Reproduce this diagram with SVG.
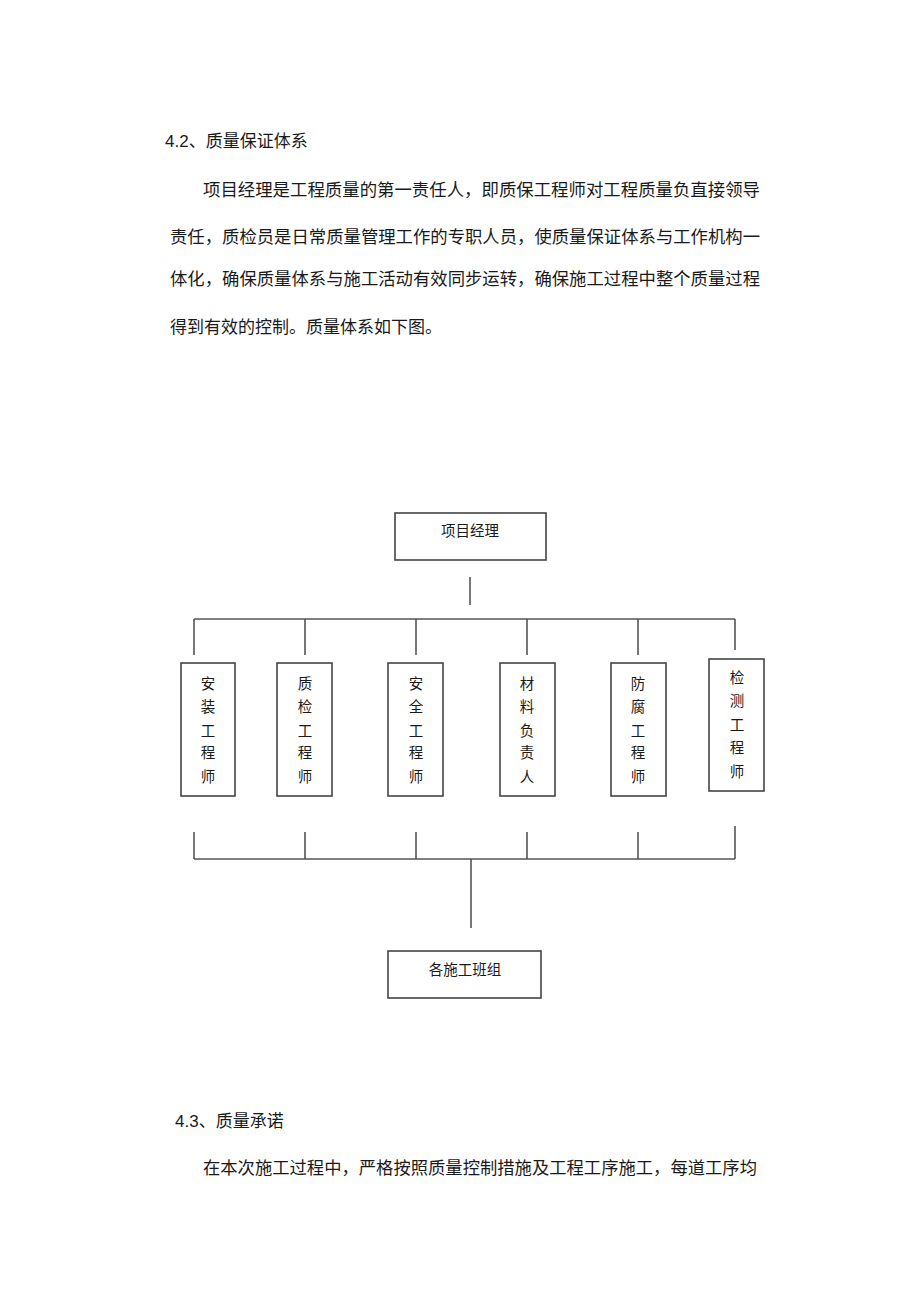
<svg xmlns="http://www.w3.org/2000/svg" width="920" height="1303" viewBox="0 0 920 1303">
<style>
.t{font-family:"Liberation Sans","Noto Sans CJK SC",sans-serif;fill:#1a1a1a}
.h{font-size:17px}
.p{font-size:17.5px}
.n{font-size:14.5px;text-anchor:middle}
.box{fill:#fff;stroke:#444;stroke-width:1.6}
.ln{stroke:#555;stroke-width:1.6;fill:none}
</style>
<rect width="920" height="1303" fill="#fff"/>
<text class="t h" x="165" y="147">4.2、质量保证体系</text>
<text class="t p" x="203" y="196" textLength="557" lengthAdjust="spacingAndGlyphs">项目经理是工程质量的第一责任人，即质保工程师对工程质量负直接领导</text>
<text class="t p" x="170" y="243" textLength="590" lengthAdjust="spacingAndGlyphs">责任，质检员是日常质量管理工作的专职人员，使质量保证体系与工作机构一</text>
<text class="t p" x="170" y="285" textLength="590" lengthAdjust="spacingAndGlyphs">体化，确保质量体系与施工活动有效同步运转，确保施工过程中整个质量过程</text>
<text class="t p" x="170" y="333" textLength="272" lengthAdjust="spacingAndGlyphs">得到有效的控制。质量体系如下图。</text>

<g id="connectors">
<path class="ln" d="M470 577V605"/>
<path class="ln" d="M194 619H735"/>
<path class="ln" d="M194 619V655M305 619V655M416 619V655M527 619V655M638 619V655M735 619V650"/>
<path class="ln" d="M194 832V859M305 832V859M416 832V859M527 832V859M638 832V859M735 826V859"/>
<path class="ln" d="M194 859H735"/>
<path class="ln" d="M471 859V928"/>
</g>

<g id="n-pm">
<rect class="box" x="395" y="513" width="151" height="47"/>
<text class="t n" x="470" y="536" font-size="14.5">项目经理</text>
</g>
<g id="n-az">
<rect class="box" x="181" y="663" width="54" height="133"/>
<text class="t n" x="208"><tspan x="208" y="689">安</tspan><tspan x="208" y="712">装</tspan><tspan x="208" y="736">工</tspan><tspan x="208" y="758">程</tspan><tspan x="208" y="782">师</tspan></text>
</g>
<g id="n-zj">
<rect class="box" x="277" y="663" width="55" height="133"/>
<text class="t n" x="305"><tspan x="305" y="689">质</tspan><tspan x="305" y="712">检</tspan><tspan x="305" y="736">工</tspan><tspan x="305" y="758">程</tspan><tspan x="305" y="782">师</tspan></text>
</g>
<g id="n-aq">
<rect class="box" x="388" y="663" width="55" height="133"/>
<text class="t n" x="416"><tspan x="416" y="689">安</tspan><tspan x="416" y="712">全</tspan><tspan x="416" y="736">工</tspan><tspan x="416" y="758">程</tspan><tspan x="416" y="782">师</tspan></text>
</g>
<g id="n-cl">
<rect class="box" x="500" y="663" width="55" height="133"/>
<text class="t n" x="527"><tspan x="527" y="689">材</tspan><tspan x="527" y="712">料</tspan><tspan x="527" y="736">负</tspan><tspan x="527" y="758">责</tspan><tspan x="527" y="782">人</tspan></text>
</g>
<g id="n-ff">
<rect class="box" x="611" y="663" width="55" height="133"/>
<text class="t n" x="638"><tspan x="638" y="689">防</tspan><tspan x="638" y="712">腐</tspan><tspan x="638" y="736">工</tspan><tspan x="638" y="758">程</tspan><tspan x="638" y="782">师</tspan></text>
</g>
<g id="n-jc">
<rect class="box" x="709" y="659" width="55" height="132"/>
<text class="t n" x="737"><tspan x="737" y="683">检</tspan><tspan x="737" y="706">测</tspan><tspan x="737" y="730">工</tspan><tspan x="737" y="753">程</tspan><tspan x="737" y="777">师</tspan></text>
</g>
<g id="n-bz">
<rect class="box" x="388" y="951" width="153" height="47"/>
<text class="t n" x="465" y="975">各施工班组</text>
</g>

<text class="t h" x="175" y="1127">4.3、质量承诺</text>
<text class="t p" x="203" y="1174" textLength="554" lengthAdjust="spacingAndGlyphs">在本次施工过程中，严格按照质量控制措施及工程工序施工，每道工序均</text>
</svg>
